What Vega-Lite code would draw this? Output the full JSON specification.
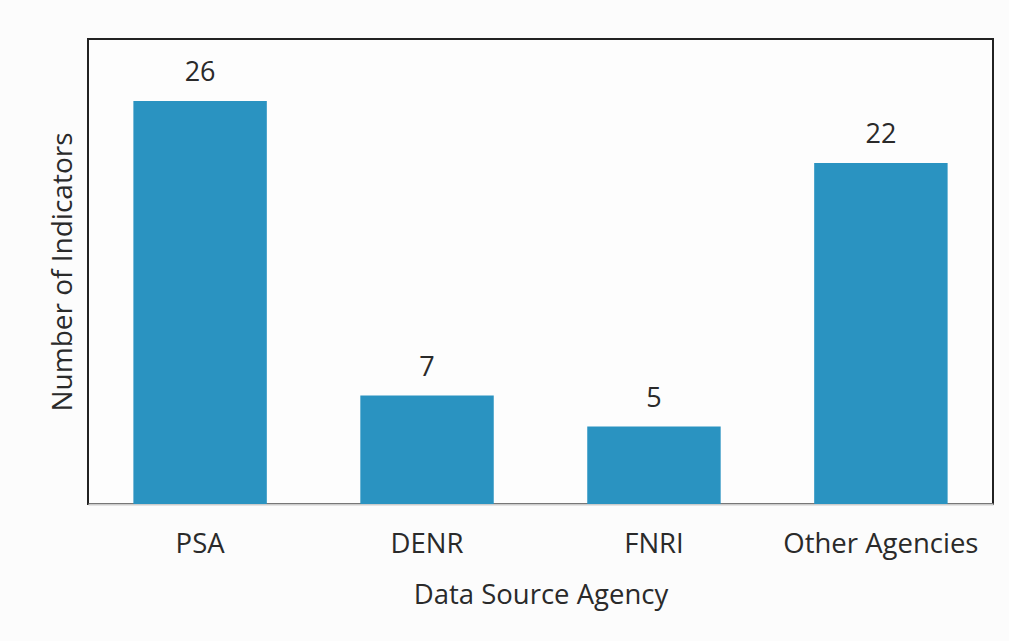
{
  "$schema": "https://vega.github.io/schema/vega-lite/v6.json",
  "width": 905,
  "height": 465,
  "autosize": {"type": "none"},
  "padding": {"left": 88, "top": 39, "right": 16, "bottom": 137},
  "background": "#fcfcfc",
  "config": {
    "font": "Open Sans",
    "view": {"stroke": "#222222", "strokeWidth": 2, "fill": "#fdfdfd"}
  },
  "data": {
    "values": [
      {"agency": "PSA", "count": 26},
      {"agency": "DENR", "count": 7},
      {"agency": "FNRI", "count": 5},
      {"agency": "Other Agencies", "count": 22}
    ]
  },
  "encoding": {
    "x": {
      "field": "agency",
      "type": "nominal",
      "sort": null,
      "scale": {"paddingInner": 0.412, "paddingOuter": 0.2},
      "axis": {
        "title": "Data Source Agency",
        "titleFont": "Open Sans",
        "titleFontSize": 27.5,
        "titleFontWeight": "normal",
        "titleColor": "#2a2a2a",
        "titlePadding": 24,
        "labelAngle": 0,
        "labelFontSize": 27.5,
        "labelColor": "#2a2a2a",
        "labelPadding": 26,
        "labelLimit": 0,
        "ticks": false,
        "domainColor": "#cccccc",
        "domainWidth": 2
      }
    },
    "y": {
      "field": "count",
      "type": "quantitative",
      "scale": {"domain": [0, 30], "nice": false},
      "axis": {
        "title": "Number of Indicators",
        "titleFontSize": 28,
        "titleFontWeight": "normal",
        "titleColor": "#2a2a2a",
        "titlePadding": 11,
        "labels": false,
        "ticks": false,
        "domain": false,
        "grid": false
      }
    }
  },
  "layer": [
    {"mark": {"type": "bar", "color": "#2a93c1"}},
    {
      "mark": {"type": "text", "dy": -20, "baseline": "alphabetic", "fontSize": 27, "color": "#2a2a2a"},
      "encoding": {"text": {"field": "count", "type": "quantitative"}}
    }
  ]
}
